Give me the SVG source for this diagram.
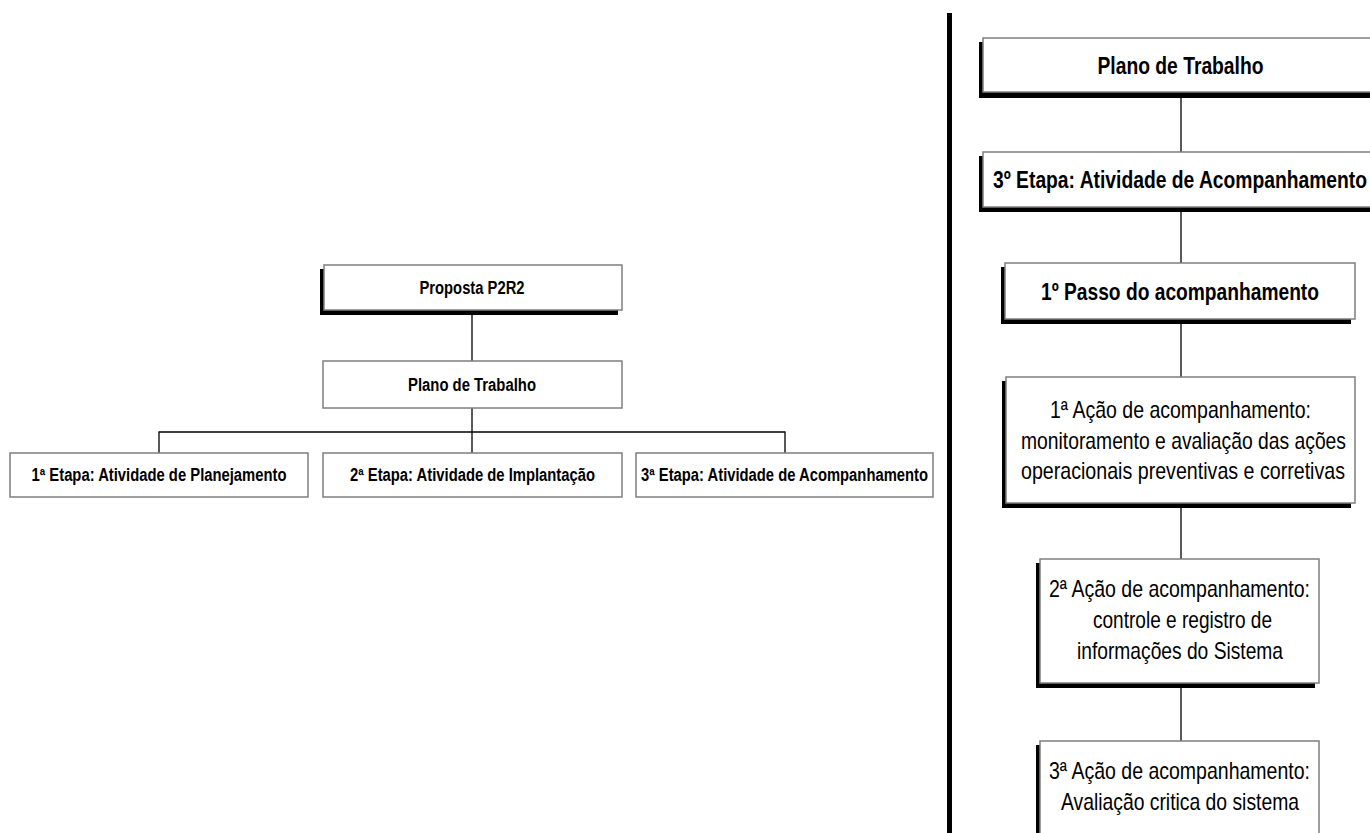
<svg xmlns="http://www.w3.org/2000/svg" width="1370" height="833" viewBox="0 0 1370 833">
<style>
  .box{fill:#ffffff;stroke:#7f7f7f;stroke-width:1.5}
  .shadow{fill:#000000}
  .conn{stroke:#000000;stroke-width:1.3;fill:none}
  .divider{fill:#000000}
  text{font-family:"Liberation Sans Narrow","Liberation Sans",Arial,sans-serif;fill:#000000;text-anchor:middle}
  .bs{font-size:18px;font-weight:bold}
  .bl{font-size:23.4px;font-weight:bold}
  .rl{font-size:23.4px}
</style>
<rect width="1370" height="833" fill="#ffffff"/>
<rect class="divider" x="947" y="13" width="5" height="820"/>
<g id="connectors">
  <line class="conn" x1="472" y1="310" x2="472" y2="361"/>
  <line class="conn" x1="472" y1="408" x2="472" y2="453"/>
  <polyline class="conn" points="159,453 159,432 785,432 785,453"/>
  <line class="conn" x1="1181" y1="92" x2="1181" y2="152"/>
  <line class="conn" x1="1181" y1="208" x2="1181" y2="263"/>
  <line class="conn" x1="1181" y1="320" x2="1181" y2="377"/>
  <line class="conn" x1="1181" y1="503" x2="1181" y2="559"/>
  <line class="conn" x1="1181" y1="683" x2="1181" y2="741"/>
</g>
<g id="proposta">
  <rect class="shadow" x="320" y="269" width="298" height="46"/>
  <rect class="box" x="324" y="265" width="298" height="45"/>
  <text class="bs" x="472" y="294" textLength="105" lengthAdjust="spacingAndGlyphs">Proposta P2R2</text>
</g>
<g id="plano-left">
  <rect class="box" x="323" y="361" width="299" height="47"/>
  <text class="bs" x="472" y="391" textLength="128" lengthAdjust="spacingAndGlyphs">Plano de Trabalho</text>
</g>
<g id="etapa1">
  <rect class="box" x="10" y="453" width="298" height="44"/>
  <text class="bs" x="159" y="481" textLength="255" lengthAdjust="spacingAndGlyphs">1ª Etapa: Atividade de Planejamento</text>
</g>
<g id="etapa2">
  <rect class="box" x="323" y="453" width="299" height="44"/>
  <text class="bs" x="472.5" y="481" textLength="245" lengthAdjust="spacingAndGlyphs">2ª Etapa: Atividade de Implantação</text>
</g>
<g id="etapa3">
  <rect class="box" x="636" y="453" width="297" height="44"/>
  <text class="bs" x="784.5" y="481" textLength="287" lengthAdjust="spacingAndGlyphs">3ª Etapa: Atividade de Acompanhamento</text>
</g>
<g id="plano-right">
  <rect class="shadow" x="979" y="42" width="400" height="56"/>
  <rect class="box" x="983" y="38" width="400" height="54"/>
  <text class="bl" x="1180.5" y="74" textLength="166" lengthAdjust="spacingAndGlyphs">Plano de Trabalho</text>
</g>
<g id="etapa3-right">
  <rect class="shadow" x="979" y="156" width="400" height="56"/>
  <rect class="box" x="983" y="152" width="400" height="55"/>
  <text class="bl" x="1180" y="188" textLength="374" lengthAdjust="spacingAndGlyphs">3º Etapa: Atividade de Acompanhamento</text>
</g>
<g id="passo1">
  <rect class="shadow" x="1001" y="267" width="350" height="57"/>
  <rect class="box" x="1005" y="263" width="350" height="56"/>
  <text class="bl" x="1180" y="300" textLength="278" lengthAdjust="spacingAndGlyphs">1º Passo do acompanhamento</text>
</g>
<g id="acao1">
  <rect class="shadow" x="1002" y="381" width="349" height="127"/>
  <rect class="box" x="1006" y="377" width="349" height="126"/>
  <text class="rl" x="1180.5" y="418" textLength="261" lengthAdjust="spacingAndGlyphs">1ª Ação de acompanhamento:</text>
  <text class="rl" x="1183.5" y="449" textLength="325" lengthAdjust="spacingAndGlyphs">monitoramento e avaliação das ações</text>
  <text class="rl" x="1183" y="479" textLength="324" lengthAdjust="spacingAndGlyphs">operacionais preventivas e corretivas</text>
</g>
<g id="acao2">
  <rect class="shadow" x="1036" y="563" width="279" height="125"/>
  <rect class="box" x="1040" y="559" width="279" height="124"/>
  <text class="rl" x="1179.5" y="597" textLength="261" lengthAdjust="spacingAndGlyphs">2ª Ação de acompanhamento:</text>
  <text class="rl" x="1182.5" y="628" textLength="179" lengthAdjust="spacingAndGlyphs">controle e registro de</text>
  <text class="rl" x="1180" y="659" textLength="206" lengthAdjust="spacingAndGlyphs">informações do Sistema</text>
</g>
<g id="acao3">
  <rect class="shadow" x="1036" y="745" width="279" height="110"/>
  <rect class="box" x="1040" y="741" width="279" height="110"/>
  <text class="rl" x="1179.5" y="779" textLength="261" lengthAdjust="spacingAndGlyphs">3ª Ação de acompanhamento:</text>
  <text class="rl" x="1180" y="810" textLength="238" lengthAdjust="spacingAndGlyphs">Avaliação critica do sistema</text>
</g>
</svg>
